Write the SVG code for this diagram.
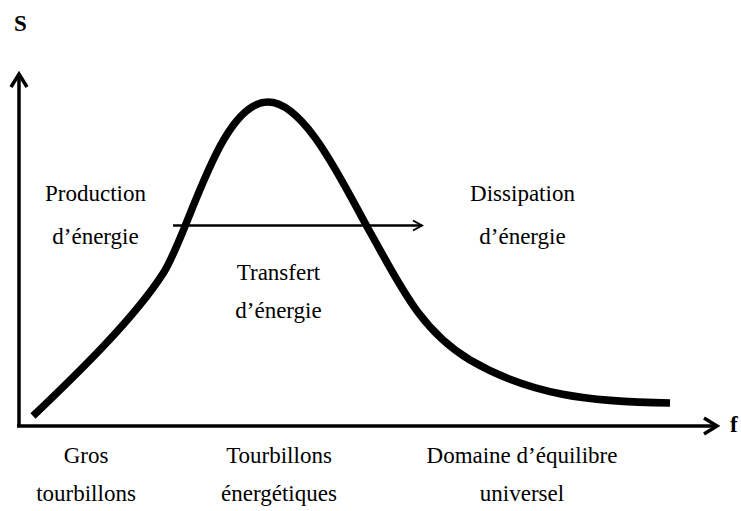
<svg xmlns="http://www.w3.org/2000/svg" width="741" height="511" viewBox="0 0 741 511">
<style>
text{font-family:"Liberation Serif","Times New Roman",serif;font-size:23px;fill:#000;text-anchor:middle}
.b{font-weight:bold;text-anchor:start}
.ax{stroke:#000;stroke-width:3.5;fill:none}
.thin{stroke:#000;stroke-width:2.5;fill:none}
.curve{stroke:#000;stroke-width:7.5;fill:none;stroke-linecap:butt}
</style>
<defs>
<marker id="ha" markerUnits="userSpaceOnUse" viewBox="-16 -10 20 20" markerWidth="20" markerHeight="20" refX="0" refY="0" orient="auto">
<path d="M-13,-8 L0,0 L-13,8" fill="none" stroke="#000" stroke-width="3.5"/>
</marker>
<marker id="hs" markerUnits="userSpaceOnUse" viewBox="-12 -8 14 16" markerWidth="14" markerHeight="16" refX="0" refY="0" orient="auto">
<path d="M-9,-5 L0,0 L-9,5" fill="none" stroke="#000" stroke-width="2"/>
</marker>
</defs>
<g id="connectors">
<line class="ax" x1="19" y1="427" x2="19" y2="74" marker-end="url(#ha)"/>
<line class="ax" x1="17" y1="426" x2="717" y2="426" marker-end="url(#ha)"/>
<path id="spectrum" class="curve" d="M33,416 C75,376 135,318 164,272 C190,230 220,102 268,102 C306,102 345,188 370,232 C400,285 420,330 470,360 C530,395 590,402 670,403"/>
<line class="thin" x1="173" y1="225.5" x2="422" y2="225.5" marker-end="url(#hs)"/>
</g>
<g id="axis-labels">
<text class="b" x="14" y="31">S</text>
<text class="b" x="730" y="432">f</text>
</g>
<g id="production">
<text x="95.5" y="201">Production</text>
<text x="95.5" y="244">d’énergie</text>
</g>
<g id="dissipation">
<text x="522.5" y="201">Dissipation</text>
<text x="522.5" y="244">d’énergie</text>
</g>
<g id="transfert">
<text x="278.5" y="280">Transfert</text>
<text x="278.5" y="318">d’énergie</text>
</g>
<g id="gros">
<text x="86" y="463">Gros</text>
<text x="86" y="501">tourbillons</text>
</g>
<g id="energetiques">
<text x="279" y="463">Tourbillons</text>
<text x="279" y="501">énergétiques</text>
</g>
<g id="domaine">
<text x="522" y="463">Domaine d’équilibre</text>
<text x="522" y="501">universel</text>
</g>
</svg>
